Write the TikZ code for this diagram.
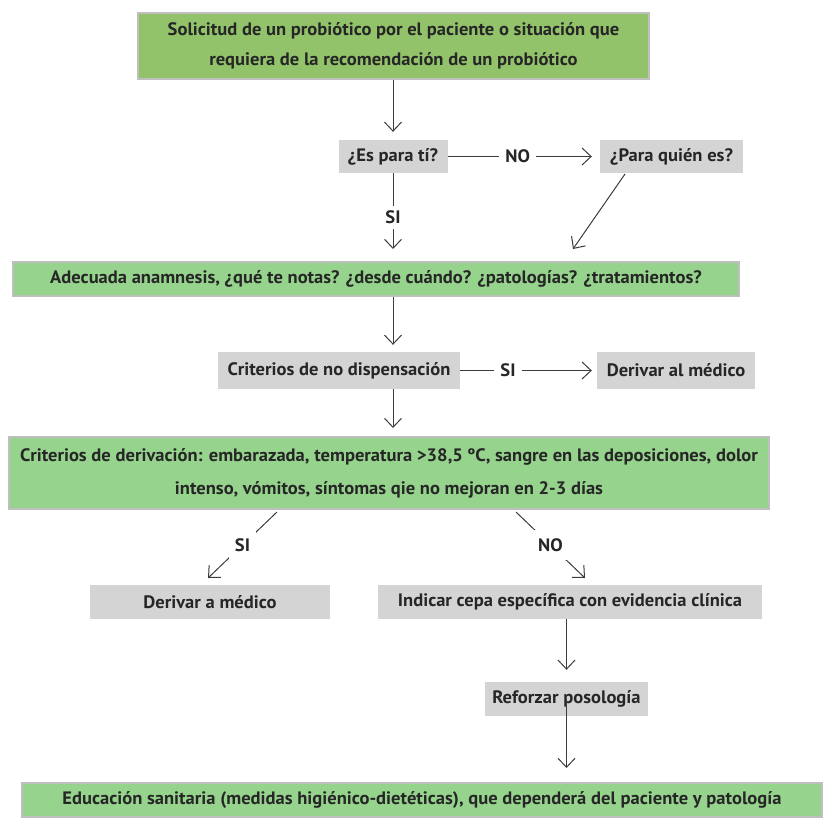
\documentclass[tikz,border=0pt]{standalone}
\usepackage{fontspec}
\setmainfont{PT Sans}[FakeStretch=1.03]
\usetikzlibrary{arrows.meta}
\usepackage{xcolor}
\definecolor{verdeA}{HTML}{92C36A}
\definecolor{verdeB}{HTML}{96D38D}
\definecolor{grisc}{HTML}{D4D4D4}
\definecolor{borde}{HTML}{BFBFBF}
\definecolor{texto}{HTML}{262626}
\definecolor{linea}{HTML}{3C3C3C}

\begin{document}
\begin{tikzpicture}[x=1pt, y=-1pt, text=texto, font=\bfseries\fontsize{18}{30}\selectfont,
    every node/.style={inner sep=0pt, align=center},
    verde/.style={draw=borde, line width=2pt, fill=verdeB},
    gris/.style={fill=grisc},
    etiq/.style={fill=white, inner xsep=6pt, inner ysep=5pt},
    flecha/.style={draw=linea, line width=1pt, -{Straight Barb[length=9pt,width=17pt]}}]
    \useasboundingbox (0,0) rectangle (827,817);
    \node[verde, fill=verdeA, minimum width=511, minimum height=66] (0) at (393.5,46)
        {Solicitud de un probiótico por el paciente o situación que\\requiera de la recomendación de un probiótico};
    \node[gris, minimum width=109, minimum height=33] (1) at (393,156.5) {¿Es para tí?};
    \node[gris, minimum width=143, minimum height=33] (2) at (671.5,156.5) {¿Para quién es?};
    \node[verde, minimum width=726, minimum height=34] (3) at (376,279)
        {Adecuada anamnesis, ¿qué te notas? ¿desde cuándo? ¿patologías? ¿tratamientos?};
    \node[gris, minimum width=242, minimum height=37] (4) at (339,370.5) {Criterios de no dispensación};
    \node[gris, minimum width=158, minimum height=37] (5) at (676,370.5) {Derivar al médico};
    \node[verde, minimum width=760, minimum height=72] (6) at (389,473)
        {Criterios de derivación: embarazada, temperatura >38,5 ºC, sangre en las deposiciones, dolor\\[3pt]intenso, vómitos, síntomas qie no mejoran en 2-3 días};
    \node[gris, minimum width=240, minimum height=34] (7) at (210,602) {Derivar a médico};
    \node[gris, minimum width=384, minimum height=34] (8) at (570,602) {Indicar cepa específica con evidencia clínica};
    \node[gris, minimum width=163, minimum height=34] (9) at (566.5,699) {Reforzar posología};
    \node[verde, minimum width=800, minimum height=34] (10) at (422,800)
        {Educación sanitaria (medidas higiénico-dietéticas), que dependerá del paciente y patología};
    % puntos sueltos de las diagonales
    \coordinate (2a) at (625,174);
    \coordinate (3a) at (573,249);
    \coordinate (6a) at (277,512);
    \coordinate (7a) at (208,578);
    \coordinate (6b) at (516,512);
    \coordinate (8a) at (585,578);
        \draw[flecha, shorten >=8pt] (0.south -| 1) -- (1.north);
        \draw[flecha, shorten >=8pt] (1.east) -- node[etiq, pos=0.46] {NO} (2.west);
        \draw[flecha, shorten >=12pt] (1.south) -- node[etiq] {SI} (3.north -| 1);
        \draw[flecha] (2a) -- (3a);
        \draw[flecha, shorten >=7pt] (3.south -| 1) -- (4.north -| 1);
        \draw[flecha, shorten >=5pt] (4.east) -- node[etiq, pos=0.35] {SI} (5.west);
        \draw[flecha, shorten >=8pt] (4.south -| 1) -- (6.north -| 1);
        \draw[flecha] (6a) -- node[etiq, inner ysep=8pt] {SI} (7a);
        \draw[flecha] (6b) -- node[etiq, inner ysep=8pt] {NO} (8a);
        \draw[flecha, shorten >=12pt] (8.south -| 9) -- (9.north);
        \draw[flecha, shorten >=14pt] (9.center) -- (10.north -| 9);
\end{tikzpicture}
\end{document}
